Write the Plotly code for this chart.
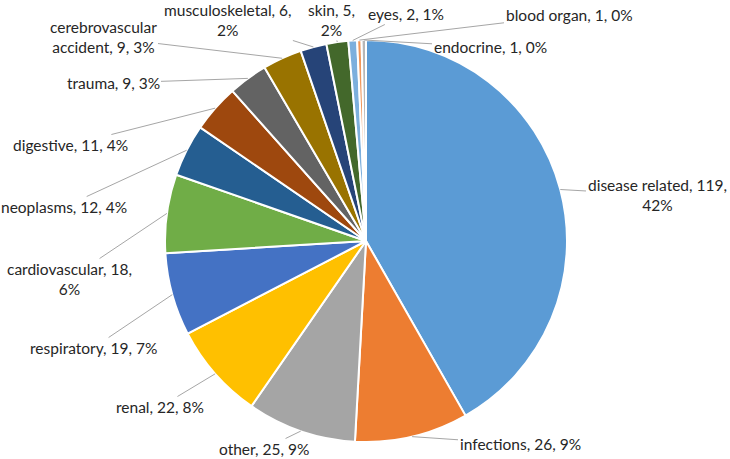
import math
import plotly.graph_objects as go

# data
categories = ["disease related", "infections", "other", "renal", "respiratory",
              "cardiovascular", "neoplasms", "digestive", "trauma",
              "cerebrovascular accident", "musculoskeletal", "skin", "eyes",
              "blood organ", "endocrine"]
counts = [119, 26, 25, 22, 19, 18, 12, 11, 9, 9, 6, 5, 2, 1, 1]

colors = ["#5B9BD5", "#ED7D31", "#A5A5A5", "#FFC000", "#4472C4", "#70AD47",
          "#255E91", "#9E480E", "#636363", "#997300", "#264478", "#43682B",
          "#7CAFDD", "#F1975A", "#B7B7B7"]

# where each label sits (pixel centre in the 730x459 picture)
label_pos = [(657, 195), (520, 444), (264, 449), (160, 407), (93, 348),
             (69, 279), (64, 207), (70, 145), (113, 83), (103, 37),
             (228, 20), (331, 20), (406, 14), (569, 15), (490, 47)]
# labels that wrap onto two lines
wrapped = {"disease related": "{c}, {v},<br>{p}",
           "cardiovascular": "{c}, {v},<br>{p}",
           "cerebrovascular accident": "cerebrovascular<br>accident, {v}, {p}",
           "musculoskeletal": "{c}, {v},<br>{p}",
           "skin": "{c}, {v},<br>{p}"}

W, H = 730, 459
cx, cy, r = 366, 241, 201

fig = go.Figure(go.Pie(
    labels=categories, values=counts, sort=False, direction="clockwise",
    rotation=0, textinfo="none", hoverinfo="label+value+percent",
    marker=dict(colors=colors, line=dict(color="white", width=2)),
    domain=dict(x=[(cx - r) / W, (cx + r) / W],
                y=[(H - cy - r) / H, (H - cy + r) / H]),
    showlegend=False))

total = sum(counts)
cum = 0
for c, v, (lx, ly) in zip(categories, counts, label_pos):
    mid = (cum + v / 2) / total * 2 * math.pi
    cum += v
    px = cx + r * math.sin(mid)
    py = cy - r * math.cos(mid)
    pct = "%d%%" % round(v / total * 100)
    tmpl = wrapped.get(c, "{c}, {v}, {p}")
    fig.add_annotation(
        x=px / W, y=1 - py / H, xref="paper", yref="paper",
        ax=lx - px, ay=ly - py,
        text=tmpl.format(c=c, v=v, p=pct), align="center",
        showarrow=True, arrowhead=0, arrowwidth=1, arrowcolor="#A6A6A6",
        standoff=0, font=dict(family="Lato", size=15.5, color="#262626"))

fig.update_layout(width=W, height=H, margin=dict(l=0, r=0, t=0, b=0),
                  paper_bgcolor="white", plot_bgcolor="white")

# page body has an 8px margin by default, drop it
fig.write_html("out.html", config={"displayModeBar": False},
               post_script="document.body.style.margin='0';")
